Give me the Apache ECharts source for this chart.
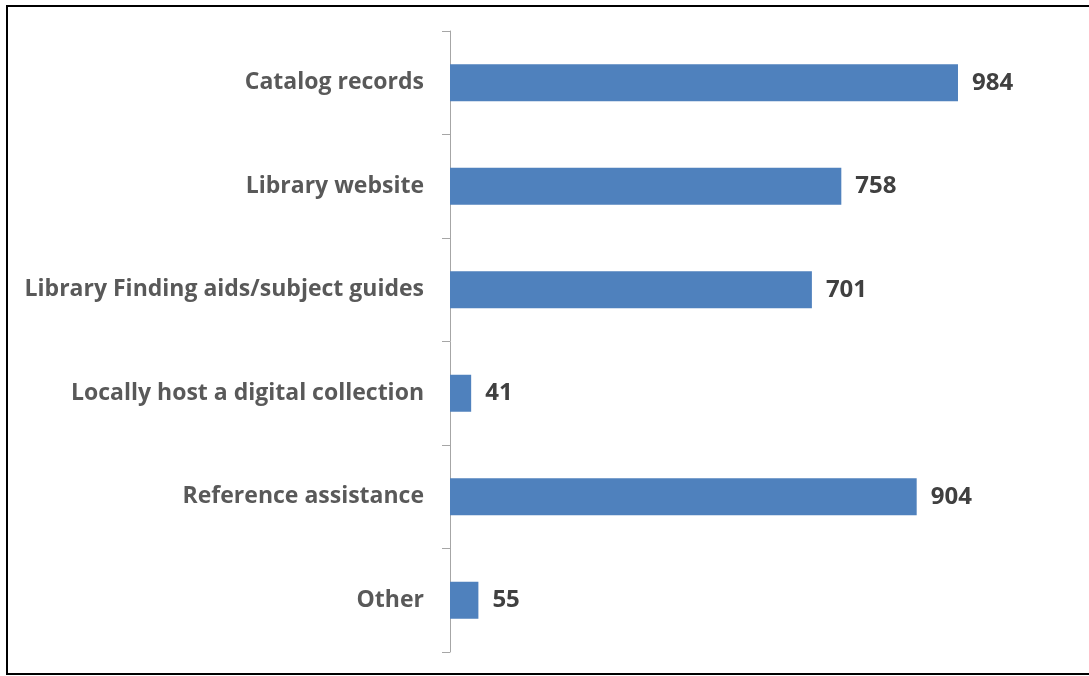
<!DOCTYPE html>
<html>
<head>
<meta charset="utf-8">
<script src="https://cdn.jsdelivr.net/npm/echarts@6/dist/echarts.min.js"></script>
<style>
    html, body { margin: 0; padding: 0; background: #fff; overflow: hidden; }
    #frame {
        position: absolute; left: 6px; top: 5px; width: 1100px; height: 670px;
        border: 2px solid #000; box-sizing: border-box;
    }
    #main { position: absolute; left: 0; top: 0; width: 1089px; height: 676px; }
</style>
</head>
<body>
<div id="frame"></div>
<div id="main"></div>
<script>
var categories = ['Catalog records', 'Library website', 'Library Finding aids/subject guides',
    'Locally host a digital collection', 'Reference assistance', 'Other'];
var counts = [984, 758, 701, 41, 904, 55];

var chart = echarts.init(document.getElementById('main'));
var option = {
    animation: false,
    grid: { left: 450, right: 19.5, top: 31, bottom: 24 },
    xAxis: {
        type: 'value',
        min: 0,
        max: 1200,
        show: false
    },
    yAxis: {
        type: 'category',
        data: categories,
        inverse: true,
        axisLine: { show: true, lineStyle: { color: '#a6a6a6', width: 1 } },
        axisTick: { show: true, length: 8, lineStyle: { color: '#a6a6a6' } },
        axisLabel: {
            margin: 26,
            color: '#595959',
            fontFamily: 'Open Sans',
            fontWeight: 'bold',
            fontSize: 23
        }
    },
    series: [{
        type: 'bar',
        data: counts,
        barWidth: 37,
        itemStyle: { color: '#4f81bd' },
        label: {
            show: true,
            position: 'right',
            distance: 14,
            color: '#404040',
            fontFamily: 'Open Sans',
            fontWeight: 'bold',
            fontSize: 24
        }
    }]
};
chart.setOption(option);
</script>
</body>
</html>
